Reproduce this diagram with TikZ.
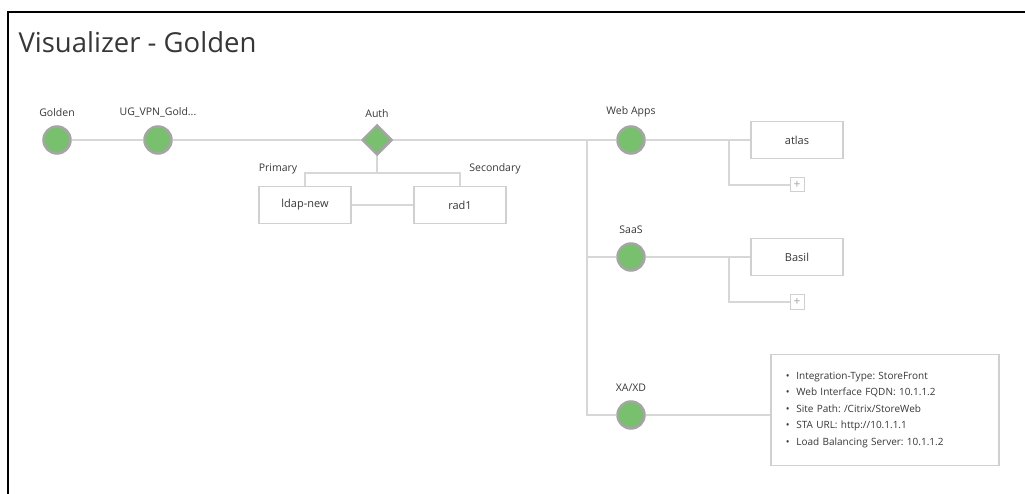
\documentclass[tikz,border=0pt]{standalone}
\usepackage{fontspec}
\setmainfont{Open Sans}
\usepackage{tikz}
\usetikzlibrary{shapes.geometric,calc,positioning,backgrounds}

\definecolor{nodegreen}{RGB}{120,192,110}
\definecolor{rimgray}{RGB}{165,165,165}
\definecolor{wiregray}{RGB}{215,215,215}
\definecolor{boxgray}{RGB}{208,208,208}
\definecolor{textgray}{RGB}{55,55,55}

\tikzset{
  vnode/.style={circle, fill=nodegreen, draw=rimgray, line width=2.5pt, minimum size=27pt, inner sep=0pt},
  vauth/.style={diamond, fill=nodegreen, draw=rimgray, line width=2.5pt, minimum size=30pt, inner sep=0pt},
  vlbl/.style={text=textgray, font=\fontsize{10.5}{12}\selectfont},
  vbox/.style={draw=boxgray, line width=1.8pt, fill=white, minimum width=92pt, minimum height=37pt, text=textgray, font=\fontsize{11}{13}\selectfont},
  vplus/.style={draw=boxgray, line width=1pt, fill=white, minimum size=14pt, inner sep=0pt, text=rimgray, font=\fontsize{12}{12}\selectfont},
  wire/.style={draw=wiregray, line width=1.8pt},
}

\begin{document}
\frenchspacing
\begin{tikzpicture}[x=1pt, y=-1pt]
\useasboundingbox (0,0) rectangle (1025,494);
%
\draw[line width=2.5pt] (8,494) |- (1025,12);
\node[anchor=west, text=textgray, font=\fontsize{27.5}{30}\selectfont] (title) at (15,42) {Visualizer - Golden};
%
\node[vnode, label={[vlbl, label distance=5pt]above:Golden}] (golden) at (57,140) {};
\node[vnode, label={[vlbl, label distance=5pt]above:UG\_VPN\_Gold...}] (ugvpn) at (158,140) {};
\node[vauth, label={[vlbl, label distance=3pt]above:Auth}] (auth) at (377,140) {};
\node[vnode, label={[vlbl, label distance=5pt]above:Web Apps}] (webapps) at (631,140) {};
\node[vnode, label={[vlbl, label distance=5pt]above:SaaS}] (saas) at (631,257) {};
\node[vnode, label={[vlbl, label distance=5pt]above:XA/XD}] (xaxd) at (631,415) {};
%
\node[vbox] (ldap) at (305,205) {ldap-new};
\node[vbox] (rad1) at (460,205) {rad1};
\node[vlbl] (primary) at (278,169) {Primary};
\node[vlbl] (secondary) at (495,169) {Secondary};
%
\node[vbox] (atlas) at (797,140) {atlas};
\node[vbox] (basil) at (797,257) {Basil};
\node[vplus] (plusA) at (797,185) {+};
\node[vplus] (plusB) at (797,302) {+};
%
\node[draw=boxgray, line width=1.8pt, fill=white, anchor=west, text width=198pt, minimum height=111pt, inner xsep=15pt, align=left, text=textgray, font=\fontsize{10}{16.5}\selectfont] (info) at (770,410) {%
\textbullet\ \ Integration-Type: StoreFront\\
\textbullet\ \ Web Interface FQDN: 10.1.1.2\\
\textbullet\ \ Site Path: /Citrix/StoreWeb\\
\textbullet\ \ STA URL: http://10.1.1.1\\
\textbullet\ \ Load Balancing Server: 10.1.1.2};
%
\coordinate (trunk) at (587,140);
\coordinate (fork) at (377,173);
\coordinate (branchA) at (729,140);
\coordinate (branchB) at (729,257);
%
\begin{scope}[on background layer]
\path[wire] (golden) -- (ugvpn);
\path[wire] (ugvpn) -- (auth);
\path[wire] (auth) -- (trunk) -- (webapps);
\path[wire] (trunk) |- (xaxd);
\path[wire] (trunk |- saas) -- (saas);
\path[wire] (auth.south) -- (fork);
\path[wire] (ldap.north) -- (ldap.north |- fork) -- (rad1.north |- fork) -- (rad1.north);
\path[wire] (ldap) -- (rad1);
\path[wire] (webapps) -- (atlas);
\path[wire] (branchA) |- (plusA);
\path[wire] (saas) -- (basil);
\path[wire] (branchB) |- (plusB);
\path[wire] (xaxd) -- (xaxd -| info.west);
\end{scope}
%
\end{tikzpicture}
\end{document}
